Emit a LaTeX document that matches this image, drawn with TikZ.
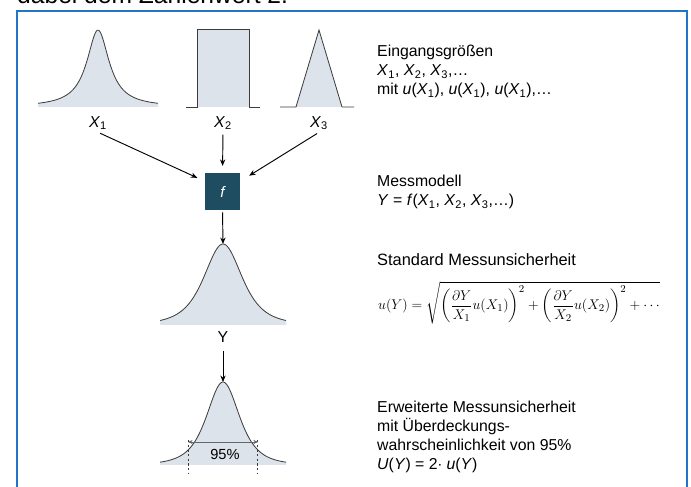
\documentclass[tikz,border=0pt]{standalone}
\usepackage{amsmath}
\usepackage{fontspec}
\setmainfont{Liberation Sans}
\usetikzlibrary{arrows.meta, positioning, calc}
\definecolor{frameblue}{HTML}{2176C7}
\definecolor{boxteal}{HTML}{1E4D62}
\definecolor{curvefill}{HTML}{DCE3EA}
\definecolor{curveline}{HTML}{3C3C3C}
\newcommand{\xv}[1]{\textit{X}\textsubscript{#1}}
% centre x, base y, height, width, half span, power
\newcommand{\bellcurve}[6]{%
  \fill[curvefill] plot[domain=-#5:#5, samples=90, smooth] ({#1+\x},{#2-#3/(1+(\x/#4)^2)^#6})
    -- (#1+#5,#2) -- (#1-#5,#2) -- cycle;
  \draw[curveline, line width=0.7pt] plot[domain=-#5:#5, samples=90, smooth] ({#1+\x},{#2-#3/(1+(\x/#4)^2)^#6});}

\begin{document}
\begin{tikzpicture}[
  x=0.03cm, y=-0.03cm,
  lbl/.style={font=\fontsize{13.5}{16}\selectfont, inner sep=2pt},
  txt/.style={font=\fontsize{13.5}{16.2}\selectfont, align=left, anchor=north west, inner sep=0pt},
  fbox/.style={fill=boxteal, minimum width=1.05cm, minimum height=1.1cm, inner sep=0pt, text=white, font=\fontsize{13}{15}\selectfont\itshape},
  arr/.style={-{Stealth[length=5.5pt, width=4.5pt]}, line width=0.8pt, black}
]
  \useasboundingbox (0,0) rectangle (691,487);
  \clip (0,0) rectangle (691,487);

  \node[anchor=base west, inner sep=0pt, font=\fontsize{21}{24}\selectfont] (head) at (17,3.5) {dabei dem Zahlenwert 2.};
  \draw[frameblue, line width=1.8pt] (17,500) -- (17,11) -- (687,11) -- (687,500);

  % input quantities
  \bellcurve{98}{107}{77}{13.5}{60}{1}
  \fill[curvefill] (197,107) rectangle (249,29);
  \draw[curveline, line width=0.7pt] (186,107) -- (197,107) -- (197,29) -- (249,29) -- (249,107) -- (260,107);
  \fill[curvefill] (296,107) -- (319,30) -- (342,107) -- cycle;
  \draw[curveline, line width=0.7pt] (280,107) -- (296,107) -- (319,30) -- (342,107) -- (354,107);

  \node[lbl] (xa) at (98,123) {\xv{1}};
  \node[lbl] (xb) at (223,123) {\xv{2}};
  \node[lbl] (xc) at (319,123) {\xv{3}};

  \node[fbox] (model) at (222.5,191.5) {f};

  \draw[arr, shorten <=2pt, shorten >=7pt] (xa.south) -- (model.150);
  \draw[arr, shorten <=2pt, shorten >=6pt] (xb.south) -- (model.north);
  \draw[arr, shorten <=2pt, shorten >=9pt] (xc.south) -- (model.30);

  % output quantity
  \bellcurve{223}{325}{81}{35}{63}{2}
  \coordinate (ytop) at (223,244);
  \draw[arr, shorten <=2pt] (model.south) -- (ytop);
  \node[lbl] (ylbl) at (223,337) {Y};

  \bellcurve{223}{465}{83}{30}{63}{2}
  \coordinate (utop) at (223,382);
  \draw[arr, shorten <=5pt] (ylbl.south) -- (utop);
  \coordinate (lo) at (188,442);
  \coordinate (hi) at (258,442);
  \draw[gray!80!black, line width=0.8pt, {Stealth[length=4pt, width=3.5pt]}-{Stealth[length=4pt, width=3.5pt]}] (lo) -- (hi);
  \draw[curveline, dashed, line width=0.6pt, dash pattern=on 2pt off 2pt] (188,440) -- (188,474);
  \draw[curveline, dashed, line width=0.6pt, dash pattern=on 2pt off 2pt] (257,440) -- (257,474);
  \node[lbl, font=\fontsize{12.5}{14}\selectfont] (pct) at (225,454) {95\%};

  % explanations
  \node[txt] (t1) at (377,45) {Eingangsgrößen\\ \xv{1}, \xv{2}, \xv{3},\ldots\\ mit \textit{u}(\xv{1}), \textit{u}(\xv{1}), \textit{u}(\xv{1}),\ldots};
  \node[txt] (t2) at (377,175) {Messmodell\\ \textit{Y} = \textit{f}(\xv{1}, \xv{2}, \xv{3},\ldots)};
  \node[txt, font=\fontsize{14}{16.5}\selectfont] (t3) at (377,253) {Standard Messunsicherheit};
  \node[anchor=west, inner sep=0pt, font=\fontsize{12.6}{14}\selectfont] (eq) at (378,303)
    {$\displaystyle u(Y) = \sqrt{\left(\frac{\partial Y}{X_1}u(X_1)\right)^{2} + \left(\frac{\partial Y}{X_2}u(X_2)\right)^{2} + \cdots}$};
  \node[txt] (t4) at (377,401) {Erweiterte Messunsicherheit\\ mit Überdeckungs-\\ wahrscheinlichkeit von 95\%\\ \textit{U}(\textit{Y}) = 2$\cdot$ \textit{u}(\textit{Y})};
\end{tikzpicture}
\end{document}
